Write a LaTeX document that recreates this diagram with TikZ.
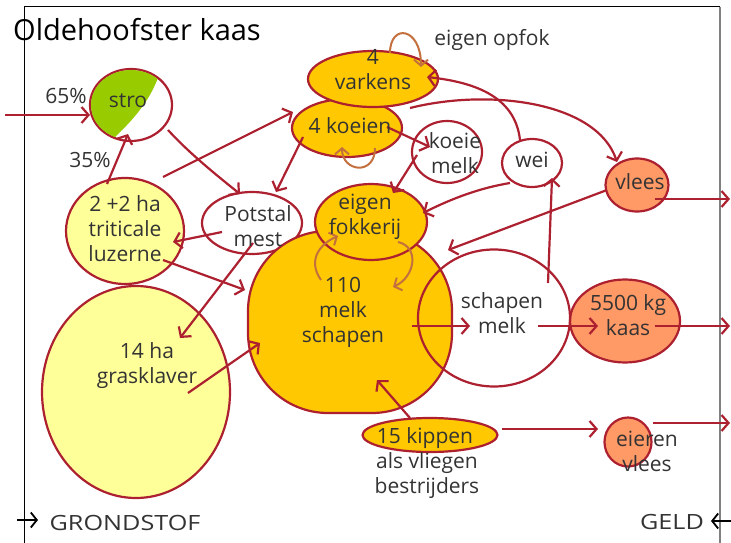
\documentclass[tikz,border=0pt]{standalone}
\usepackage{fontspec}
\usepackage{graphicx}
\setmainfont{Open Sans}
\usetikzlibrary{arrows.meta,calc,shapes.geometric}
\definecolor{lred}{RGB}{172,32,48}
\definecolor{lbrown}{RGB}{196,112,62}
\definecolor{lyel}{RGB}{255,255,153}
\definecolor{lgold}{RGB}{255,200,0}
\definecolor{lsalm}{RGB}{255,153,102}
\definecolor{lgreen}{RGB}{153,204,0}
\definecolor{ltxt}{RGB}{51,51,51}
\tikzset{
 blob/.style={ellipse, draw=lred, line width=2.2pt, inner sep=0pt},
 rblob/.style={rectangle, rounded corners=80pt, draw=lred, line width=2.2pt, inner sep=0pt},
 txt/.style={text=ltxt, font=\fontsize{21}{25}\selectfont, align=center, inner sep=0pt},
 arr/.style={draw=lred, line width=2.2pt, -{Straight Barb[length=7pt,width=16pt]}},
 barr/.style={draw=lbrown, line width=2pt, -{Straight Barb[length=6pt,width=14pt]}},
 karr/.style={draw=black, line width=1.8pt, -{Straight Barb[length=6pt,width=15pt]}},
}
\begin{document}
\begin{tikzpicture}[x=1pt,y=-1pt]
\useasboundingbox (0,0) rectangle (731,543);
% frame
\draw[black, line width=1pt] (24,543) -- (24,7) -- (720,7);
\draw[gray, line width=1.6pt] (720,7) -- (720,543);
\node[anchor=west, inner sep=0pt, font=\fontsize{29}{32}\selectfont] (title) at (13,30) {Oldehoofster kaas};

% shapes
\node[blob, fill=lyel, minimum width=188pt, minimum height=212pt] (gras) at (136,392) {};
\node[blob, fill=lyel, minimum width=118pt, minimum height=106pt] (trit) at (125,231) {};
\node[blob, fill=white, minimum width=82pt, minimum height=72pt] (stro) at (131,105) {};
\begin{scope}
\clip (stro.center) ellipse [x radius=40, y radius=35];
\fill[lgreen] (162,66) .. controls (152,100) and (135,118) .. (108,144) -- (85,144) -- (85,66) -- cycle;
\end{scope}
\node[blob, fill=white, minimum width=100pt, minimum height=62pt] (pots) at (252,223) {};
\node[rblob, fill=lgold, minimum width=204pt, minimum height=182pt] (sch) at (350,322) {};
\node[blob, fill=lgold, minimum width=112pt, minimum height=76pt] (fokk) at (371,222) {};
\node[blob, fill=lgold, minimum width=110pt, minimum height=58pt] (koei) at (347,128) {};
\node[blob, fill=lgold, minimum width=130pt, minimum height=56pt] (vark) at (373,79) {};
\node[blob, fill=white, minimum width=70pt, minimum height=62pt] (kmelk) at (447,152) {};
\node[blob, fill=white, minimum width=60pt, minimum height=48pt] (wei) at (532,163) {};
\node[blob, fill=lsalm, minimum width=63pt, minimum height=53pt] (vlees) at (637,185) {};
\node[blob, fill=lsalm, minimum width=110pt, minimum height=83pt] (kaas) at (625,321) {};
\node[blob, minimum width=152pt, minimum height=137pt] (smelk) at (494,318) {};
\node[blob, fill=lgold, minimum width=135pt, minimum height=34pt] (kip) at (430,435) {};
\node[blob, fill=lsalm, minimum width=47pt, minimum height=49pt] (eier) at (628,442) {};

% free ends
\coordinate (inL) at (5,115);
\coordinate (outV) at (730,199);
\coordinate (outK) at (730,326);
\coordinate (outE) at (730,423);
\coordinate (gsA) at (17,520);
\coordinate (gsB) at (38,520);
\coordinate (glA) at (731,521);
\coordinate (glB) at (711,521);

% connectors
\draw[arr] (inL) -- ($(stro)+(-41,10)$);
\draw[arr] ($(trit)+(-18,-47)$) -- ($(stro)+(-3,29)$);
\draw[arr] ($(stro)+(37,25)$) .. controls +(20,22) and +(-25,-20) .. ($(pots)+(-12,-29)$);
\draw[arr] ($(trit)+(38,-54)$) -- ($(koei)+(-54,-16)$);
\draw[arr] ($(koei)+(-44,9)$) -- ($(pots)+(24,-31)$);
\draw[arr] ($(pots)+(-30,9)$) -- ($(trit)+(48,11)$);
\draw[arr] ($(pots)+(1,20)$) -- ($(gras)+(44,-54)$);
\draw[arr] ($(trit)+(38,29)$) -- ($(sch)+(-105,-32)$);
\draw[arr] ($(gras)+(52,1)$) -- ($(sch)+(-90,21)$);
\draw[barr] ($(vark)+(17,-26)$) .. controls +(0,-30) and +(0,-40) .. ($(vark)+(48,-12)$);
\draw[barr] ($(koei)+(28,20)$) .. controls +(0,28) and +(0,25) .. ($(koei)+(-5,19)$);
\draw[arr] ($(koei)+(40,-1)$) -- ($(kmelk)+(-17,-5)$);
\draw[arr] ($(kmelk)+(-30,3)$) -- ($(fokk)+(22,-29)$);
\draw[arr] ($(wei)+(-22,20)$) .. controls +(-30,5) and +(30,-15) .. ($(fokk)+(52,-9)$);
\draw[arr] ($(wei)+(-12,-23)$) .. controls +(-5,-45) and +(45,5) .. ($(vark)+(54,-2)$);
\draw[arr] ($(koei)+(63,-20)$) .. controls +(80,-20) and +(-20,-60) .. ($(vlees)+(-20,-23)$);
\draw[arr] ($(smelk)+(54,-35)$) -- ($(wei)+(20,15)$);
\draw[arr] ($(vlees)+(-30,5)$) -- ($(sch)+(98,-72)$);
\draw[arr] ($(sch)+(62,4)$) -- ($(smelk)+(-24,8)$);
\draw[arr] ($(smelk)+(44,8)$) -- ($(kaas)+(-27,5)$);
\draw[arr] ($(kaas)+(30,5)$) -- (outK);
\draw[arr] ($(vlees)+(18,14)$) -- (outV);
\draw[arr] ($(eier)+(25,-19)$) -- (outE);
\draw[arr] ($(kip)+(72,-6)$) -- ($(eier)+(-30,-13)$);
\draw[arr] ($(kip)+(-20,-17)$) -- ($(sch)+(27,58)$);
\draw[barr] ($(sch)+(-29,-42)$) .. controls +(-14,-20) and +(-18,8) .. ($(fokk)+(-33,14)$);
\draw[barr] ($(fokk)+(27,20)$) .. controls +(22,5) and +(22,-10) .. ($(sch)+(43,-35)$);
\draw[karr] (gsA) -- (gsB);
\draw[karr] (glA) -- (glB);

% texts
\node[txt] (strot) at (128,101) {stro};
\node[txt] (p65) at (66,96) {65\%};
\node[txt] (p35) at (90,160) {35\%};
\node[txt] (tritt) at (125,229) {2 +2 ha\\triticale\\luzerne};
\node[txt] (grast) at (147,366) {14 ha\\grasklaver};
\node[txt] (potst) at (258,226) {Potstal\\mest};
\node[txt] (varkt) at (373,70) {4\\varkens};
\node[txt] (koeit) at (350,126) {4 koeien};
\node[txt] (opfok) at (492,40) {eigen opfok};
\node[txt] (kmelkt) at (455,153) {koeie\\melk};
\node[txt] (weit) at (532,160) {wei};
\node[txt] (vleest) at (640,182) {vlees};
\node[txt] (fokkt) at (365,217) {eigen\\fokkerij};
\node[txt] (scht) at (343,312) {110\\melk\\schapen};
\node[txt] (smelkt) at (502,313) {schapen\\melk};
\node[txt] (kaast) at (628,315) {5500 kg\\kaas};
\node[txt] (kipt) at (425,438) {15 kippen};
\node[txt] (kipt2) at (427,476) {als vliegen\\bestrijders};
\node[txt] (eiert) at (647,451) {eieren\\vlees};
\node[txt] (grond) at (125,523) {\scalebox{1.2}[1]{GRONDSTOF}};
\node[txt] (geld) at (672,522) {\scalebox{1.2}[1]{GELD}};
\end{tikzpicture}
\end{document}
